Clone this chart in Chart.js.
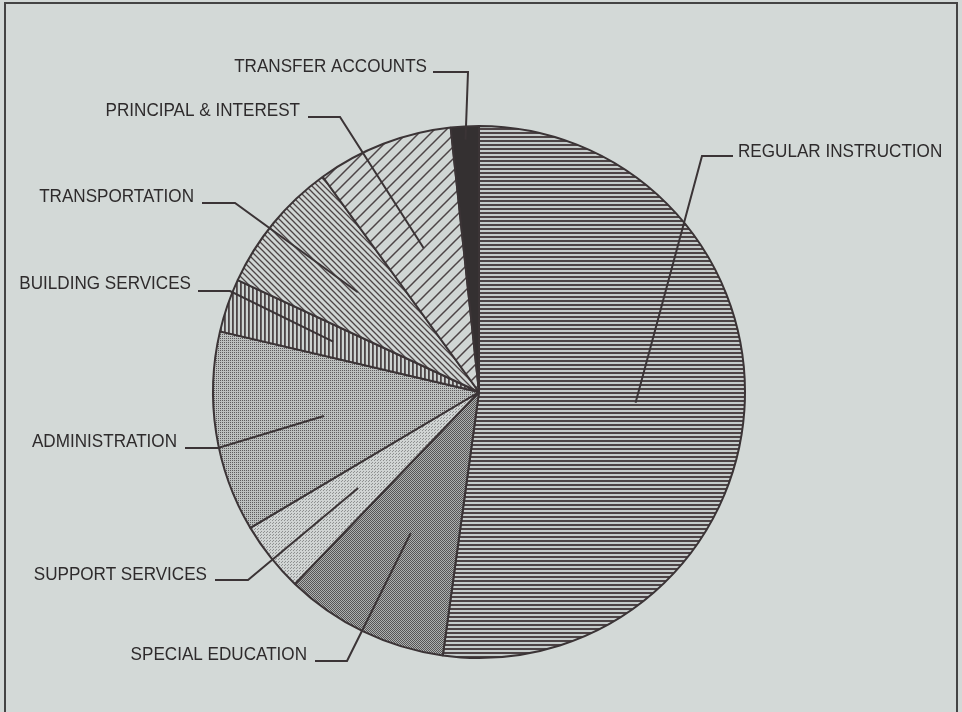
<!DOCTYPE html>
<html>
<head>
<meta charset="utf-8">
<script src="https://cdn.jsdelivr.net/npm/chart.js@4.4.1/dist/chart.umd.min.js"></script>
<style>
  html, body { margin: 0; padding: 0; background: #d3d9d7; }
  canvas { display: block; }
</style>
</head>
<body>
<canvas id="c" width="962" height="712"></canvas>
<script>
// ---- Data (shares of expenditure, percent) ----
const CATEGORIES = [
  'REGULAR INSTRUCTION',
  'SPECIAL EDUCATION',
  'SUPPORT SERVICES',
  'ADMINISTRATION',
  'BUILDING SERVICES',
  'TRANSPORTATION',
  'PRINCIPAL & INTEREST',
  'TRANSFER ACCOUNTS'
];
const VALUES = [52.2, 10.0, 4.3, 12.2, 3.25, 8.1, 8.3, 1.7];

// ---- Label layout (annotation placement, px) ----
// tx: text anchor x, ty: baseline y, align, lx0 -> lx1: horizontal leader at ly, then to slice
const LABEL_LAYOUT = [
  { tx: 738, ty: 157, align: 'left',  lx0: 733, lx1: 702, ly: 156 },
  { tx: 307, ty: 660, align: 'right', lx0: 315, lx1: 347, ly: 661 },
  { tx: 207, ty: 580, align: 'right', lx0: 215, lx1: 248, ly: 580 },
  { tx: 177, ty: 447, align: 'right', lx0: 185, lx1: 218, ly: 448 },
  { tx: 191, ty: 289, align: 'right', lx0: 198, lx1: 230, ly: 291 },
  { tx: 194, ty: 202, align: 'right', lx0: 202, lx1: 235, ly: 203 },
  { tx: 300, ty: 116, align: 'right', lx0: 308, lx1: 340, ly: 117 },
  { tx: 427, ty: 72,  align: 'right', lx0: 433, lx1: 468, ly: 72 }
];
const LEADER_DEPTH = [0.59, 0.59, 0.58, 0.59, 0.58, 0.59, 0.58, 0.95];

const BG = '#d3d9d7';
const INK = '#3b3436';
const TEXT = '#2e2b2c';

// ---- Fill patterns ----
function makePattern(w, h, draw) {
  const c = document.createElement('canvas');
  c.width = w; c.height = h;
  const g = c.getContext('2d');
  draw(g, w, h);
  return g.createPattern(c, 'repeat');
}
const pHoriz = makePattern(4, 4, (g) => {
  g.fillStyle = '#c6cccb'; g.fillRect(0, 0, 4, 4);
  g.fillStyle = '#4d4446'; g.fillRect(0, 0, 4, 2);
});
const pSpecial = makePattern(2, 2, (g) => {
  g.fillStyle = '#adb1b0'; g.fillRect(0, 0, 2, 2);
  g.fillStyle = '#575556'; g.fillRect(0, 0, 1, 1); g.fillRect(1, 1, 1, 1);
});
const pSupport = makePattern(3, 3, (g) => {
  g.fillStyle = '#d0d4d3'; g.fillRect(0, 0, 3, 3);
  g.fillStyle = '#8f9191'; g.fillRect(0, 0, 1, 1); g.fillRect(2, 1, 1, 1);
});
const pAdmin = makePattern(2, 2, (g) => {
  g.fillStyle = '#bcc0bf'; g.fillRect(0, 0, 2, 2);
  g.fillStyle = '#5e5c5d'; g.fillRect(0, 0, 1, 1);
});
const pVert = makePattern(4, 4, (g) => {
  g.fillStyle = '#cdd3d1'; g.fillRect(0, 0, 4, 4);
  g.fillStyle = '#4d4446'; g.fillRect(0, 0, 1.8, 4);
});
function diag(size, dir, lw) {
  return makePattern(size, size, (g, s) => {
    g.fillStyle = '#d0d6d4'; g.fillRect(0, 0, s, s);
    g.strokeStyle = '#4d4446'; g.lineWidth = lw;
    g.beginPath();
    if (dir === '/') {
      g.moveTo(-s, s); g.lineTo(s, -s);
      g.moveTo(0, s * 2); g.lineTo(s * 2, 0);
      g.moveTo(0, s); g.lineTo(s, 0);
    } else {
      g.moveTo(0, 0); g.lineTo(s, s);
      g.moveTo(-s, 0); g.lineTo(s, s * 2);
      g.moveTo(0, -s); g.lineTo(s * 2, s);
    }
    g.stroke();
  });
}
const pTransport = diag(6, '\\', 1.3);
const pPrincipal = diag(12, '/', 1.5);
const FILLS = [pHoriz, pSpecial, pSupport, pAdmin, pVert, pTransport, pPrincipal, '#343031'];

// ---- Plugins ----
const backdrop = {
  id: 'backdrop',
  beforeDraw(chart) {
    const ctx = chart.ctx;
    ctx.save();
    ctx.fillStyle = BG;
    ctx.fillRect(0, 0, chart.width, chart.height);
    ctx.strokeStyle = '#444';
    ctx.lineWidth = 2;
    ctx.strokeRect(5, 3, 952, 712);
    ctx.restore();
  }
};

const leaders = {
  id: 'leaders',
  afterDatasetsDraw(chart) {
    const ctx = chart.ctx;
    const meta = chart.getDatasetMeta(0);
    ctx.save();
    ctx.strokeStyle = INK;
    ctx.lineWidth = 2;
    ctx.fillStyle = TEXT;
    ctx.font = '19px "Liberation Sans", Arial, sans-serif';
    ctx.textBaseline = 'alphabetic';
    meta.data.forEach((arc, i) => {
      const p = arc.getProps(['x', 'y', 'startAngle', 'endAngle', 'outerRadius'], true);
      const mid = (p.startAngle + p.endAngle) / 2;
      const r = p.outerRadius * LEADER_DEPTH[i];
      const px = p.x + Math.cos(mid) * r;
      const py = p.y + Math.sin(mid) * r;
      const L = LABEL_LAYOUT[i];
      ctx.beginPath();
      ctx.moveTo(L.lx0, L.ly);
      ctx.lineTo(L.lx1, L.ly);
      ctx.lineTo(px, py);
      ctx.stroke();
      ctx.save();
      ctx.translate(L.tx, L.ty);
      ctx.scale(0.9, 1);
      ctx.textAlign = L.align;
      ctx.fillText(CATEGORIES[i], 0, 0);
      ctx.restore();
    });
    ctx.restore();
  }
};

new Chart(document.getElementById('c'), {
  type: 'pie',
  data: {
    labels: CATEGORIES,
    datasets: [{
      data: VALUES,
      backgroundColor: FILLS,
      borderColor: INK,
      borderWidth: 2
    }]
  },
  options: {
    responsive: false,
    animation: false,
    devicePixelRatio: 1,
    layout: { padding: { left: 212, right: 216, top: 125, bottom: 53 } },
    plugins: {
      legend: { display: false },
      tooltip: { enabled: false }
    }
  },
  plugins: [backdrop, leaders]
});
</script>
</body>
</html>
